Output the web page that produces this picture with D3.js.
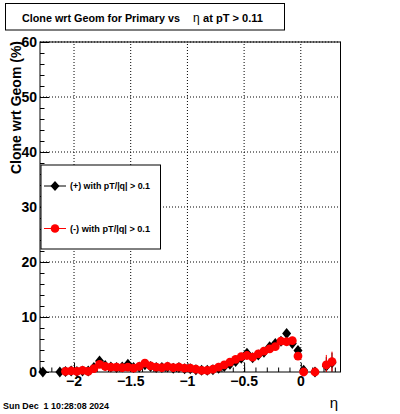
<!DOCTYPE html>
<html><head><meta charset="utf-8">
<script src="https://cdn.jsdelivr.net/npm/d3@7"></script>
<style>body{margin:0;background:#fff}svg{display:block}text{font-family:"Liberation Sans",Arial,sans-serif}</style>
</head><body>
<script>
const titleText = "Clone wrt Geom for Primary vs";
const titleSuffix = "at pT > 0.11";
const yTitle = "Clone wrt Geom (%)";
const xTitle = "η";
const dateText = "Sun Dec  1 10:28:08 2024";
const legendLabels = ["(+) with pT/|q| > 0.1", "(-) with pT/|q| > 0.1"];
const xTicks = [-2, -1.5, -1, -0.5, 0];
const xTickLabels = ["\u22122", "\u22121.5", "\u22121", "\u22120.5", "0"];
const yTicks = [0, 10, 20, 30, 40, 50, 60];

const posEta = [-2.275,-2.125,-2.075,-2.025,-1.975,-1.925,-1.875,-1.825,-1.775,-1.725,-1.675,-1.625,-1.575,-1.525,-1.475,-1.425,-1.375,-1.325,-1.275,-1.225,-1.175,-1.125,-1.075,-1.025,-0.975,-0.925,-0.875,-0.825,-0.775,-0.725,-0.675,-0.625,-0.575,-0.525,-0.475,-0.425,-0.375,-0.325,-0.275,-0.225,-0.175,-0.125,-0.075,-0.025,0.025,0.125,0.225,0.275];
const posVal = [0,0,0.1,0.2,0.1,0.2,0.2,0.8,2.0,1.2,0.9,0.8,0.9,1.4,0.8,0.9,1.3,1.0,0.8,0.8,0.9,0.7,0.8,0.6,0.6,0.4,0.3,0.3,0.4,0.7,1.0,1.4,1.9,2.5,3.4,2.6,3.1,3.6,4.6,5.2,5.6,7.0,5.2,3.9,0.3,0,1.1,1.7];
const posErr = [0,0,0.1,0.2,0.1,0.2,0.2,0.3,0.4,0.3,0.3,0.2,0.2,0.3,0.2,0.2,0.3,0.2,0.2,0.2,0.2,0.2,0.2,0.2,0.2,0.2,0.1,0.1,0.2,0.2,0.2,0.3,0.3,0.4,0.4,0.4,0.4,0.4,0.5,0.5,0.6,0.7,0.7,0.8,0.3,0,1.6,1.8];

const negEta = [-2.075,-2.025,-1.975,-1.925,-1.875,-1.825,-1.775,-1.725,-1.675,-1.625,-1.575,-1.525,-1.475,-1.425,-1.375,-1.325,-1.275,-1.225,-1.175,-1.125,-1.075,-1.025,-0.975,-0.925,-0.875,-0.825,-0.775,-0.725,-0.675,-0.625,-0.575,-0.525,-0.475,-0.425,-0.375,-0.325,-0.275,-0.225,-0.175,-0.125,-0.075,-0.025,0.025,0.125,0.225,0.275];
const negVal = [0.1,0.2,0.1,0.3,0.1,0.6,1.4,1.0,0.9,0.9,0.8,0.9,0.7,1.0,1.6,1.1,0.9,0.8,1.0,0.8,0.9,0.7,0.7,0.5,0.3,0.3,0.5,0.9,1.3,1.8,2.3,2.8,3.0,2.7,3.3,3.8,4.2,4.6,5.6,5.5,5.7,2.9,0,0,1.3,1.9];
const negErr = [0.1,0.2,0.1,0.2,0.1,0.3,0.4,0.3,0.3,0.2,0.2,0.2,0.2,0.2,0.3,0.2,0.2,0.2,0.2,0.2,0.2,0.2,0.2,0.2,0.1,0.1,0.2,0.2,0.2,0.3,0.3,0.4,0.4,0.4,0.4,0.4,0.5,0.5,0.6,0.6,0.7,0.7,0,0,1.8,1.8];
const binHalf = 0.025;

const W = 400, H = 414;
const svg = d3.select("body").append("svg").attr("width", W).attr("height", H);
const x = d3.scaleLinear().domain([-2.3, 0.35]).range([40, 340.5]);
const y = d3.scaleLinear().domain([0, 60]).range([372, 42]);

// grid
const grid = svg.append("g").attr("stroke", "#000").attr("stroke-dasharray", "1,2").attr("stroke-width", 1);
xTicks.forEach(t => grid.append("line").attr("x1", x(t)).attr("x2", x(t)).attr("y1", y(0)).attr("y2", y(60)));
yTicks.filter(t => t > 0).forEach(t => grid.append("line").attr("x1", x(-2.3)).attr("x2", x(0.35)).attr("y1", y(t)).attr("y2", y(t)));

// frame
svg.append("rect").attr("x", x(-2.3)).attr("y", y(60)).attr("width", x(0.35) - x(-2.3)).attr("height", y(0) - y(60))
  .attr("fill", "none").attr("stroke", "#000").attr("stroke-width", 1);

// x axis ticks (inside, upward)
const xAxis = d3.axisTop(x).tickValues(d3.range(-2.3, 0.36, 0.1).map(v => +v.toFixed(2))).tickSize(4.5).tickFormat("");
const gx = svg.append("g").attr("transform", `translate(0,${y(0)})`).call(xAxis);
gx.select(".domain").remove();
const gxM = svg.append("g").attr("transform", `translate(0,${y(0)})`).call(d3.axisTop(x).tickValues(xTicks).tickSize(9).tickFormat(""));
gxM.select(".domain").remove();
xTicks.forEach((t, i) => svg.append("text").attr("x", x(t)).attr("y", 386).attr("text-anchor", "middle")
  .attr("font-size", 14).attr("font-weight", "bold").text(xTickLabels[i]));

// y axis ticks (inside, rightward)
const gy = svg.append("g").attr("transform", `translate(${x(-2.3)},0)`).call(d3.axisRight(y).tickValues(d3.range(0, 61, 2)).tickSize(4.5).tickFormat(""));
gy.select(".domain").remove();
const gyM = svg.append("g").attr("transform", `translate(${x(-2.3)},0)`).call(d3.axisRight(y).tickValues(yTicks).tickSize(9).tickFormat(""));
gyM.select(".domain").remove();
yTicks.forEach(t => svg.append("text").attr("x", 37).attr("y", y(t) + 5).attr("text-anchor", "end")
  .attr("font-size", 14).attr("font-weight", "bold").text(t));

// series
function drawSeries(etas, vals, errs, color, shape) {
  const g = svg.append("g");
  etas.forEach((e, i) => {
    g.append("line").attr("x1", x(e - binHalf)).attr("x2", x(e + binHalf)).attr("y1", y(vals[i])).attr("y2", y(vals[i])).attr("stroke", color);
    g.append("line").attr("x1", x(e)).attr("x2", x(e)).attr("y1", y(Math.max(0, vals[i] - errs[i]))).attr("y2", y(vals[i] + errs[i])).attr("stroke", color);
  });
  etas.forEach((e, i) => {
    const cx = x(e), cy = y(vals[i]);
    if (shape === "diamond") {
      g.append("path").attr("d", `M${cx},${cy - 5.5}L${cx + 4.5},${cy}L${cx},${cy + 5.5}L${cx - 4.5},${cy}Z`).attr("fill", color);
    } else {
      g.append("circle").attr("cx", cx).attr("cy", cy).attr("r", 4.4).attr("fill", color);
    }
  });
}
drawSeries(posEta, posVal, posErr, "#000", "diamond");
drawSeries(negEta, negVal, negErr, "#ff0000", "circle");

// legend
const lg = svg.append("g");
lg.append("rect").attr("x", 41).attr("y", 165).attr("width", 119.5).attr("height", 84).attr("fill", "#fff").attr("stroke", "#000");
[[186, "#000", "diamond"], [228.5, "#ff0000", "circle"]].forEach((d, i) => {
  lg.append("line").attr("x1", 44).attr("x2", 66).attr("y1", d[0]).attr("y2", d[0]).attr("stroke", d[1]);
  if (d[2] === "diamond") lg.append("path").attr("d", `M55,${d[0] - 5}L59.5,${d[0]}L55,${d[0] + 5}L50.5,${d[0]}Z`).attr("fill", d[1]);
  else lg.append("circle").attr("cx", 55).attr("cy", d[0]).attr("r", 4.3).attr("fill", d[1]);
  lg.append("text").attr("x", 70).attr("y", d[0] + 3.2).attr("font-size", 9).attr("font-weight", "bold")
    .attr("textLength", 80).attr("lengthAdjust", "spacingAndGlyphs").text(legendLabels[i]);
});

// title
svg.append("rect").attr("x", 5.5).attr("y", 3.5).attr("width", 279).attr("height", 26.5).attr("fill", "#fff").attr("stroke", "#000");
svg.append("text").attr("x", 22).attr("y", 22).attr("font-size", 11.5).attr("font-weight", "bold")
  .attr("textLength", 158).attr("lengthAdjust", "spacingAndGlyphs").text(titleText);
svg.append("text").attr("x", 193).attr("y", 22).attr("font-size", 12).text("η");
svg.append("text").attr("x", 203).attr("y", 22).attr("font-size", 11.5).attr("font-weight", "bold")
  .attr("textLength", 60).attr("lengthAdjust", "spacingAndGlyphs").text(titleSuffix);

// y title
svg.append("text").attr("transform", "translate(21,41) rotate(-90)").attr("text-anchor", "end")
  .attr("font-size", 14).attr("font-weight", "bold").text(yTitle);

// x title
svg.append("text").attr("x", 334).attr("y", 408).attr("text-anchor", "middle").attr("font-size", 15).text(xTitle);

// date
svg.append("text").attr("x", 3).attr("y", 408.5).attr("font-size", 8.5).attr("font-weight", "bold")
  .attr("xml:space", "preserve").style("white-space", "pre")
  .attr("textLength", 106).attr("lengthAdjust", "spacingAndGlyphs").text(dateText);
</script>
</body></html>
